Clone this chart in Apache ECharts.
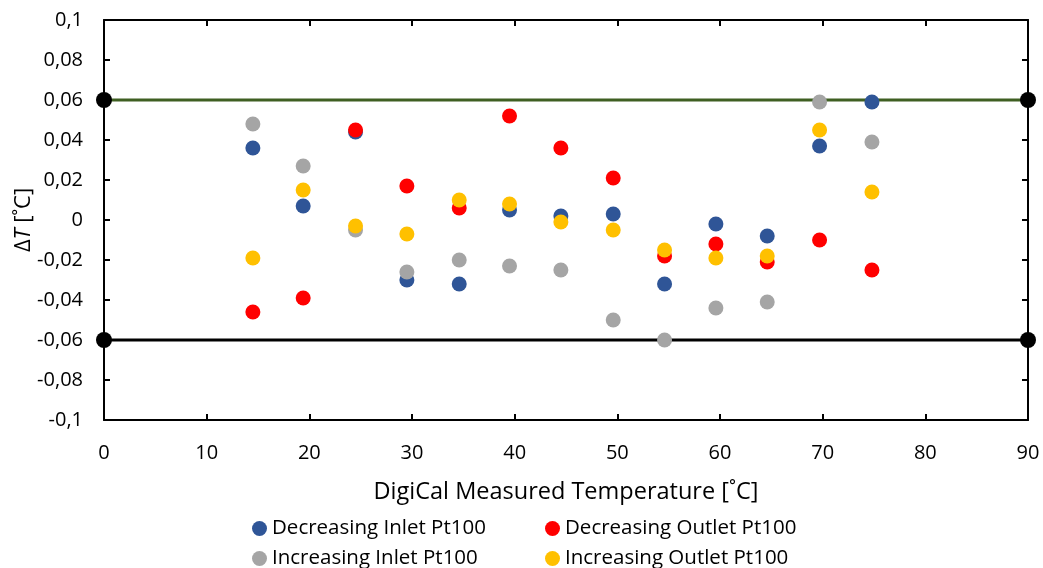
<!DOCTYPE html>
<html>
<head>
<meta charset="utf-8">
<script src="https://cdn.jsdelivr.net/npm/echarts@6/dist/echarts.min.js"></script>
<style>
  html, body { margin: 0; padding: 0; background: #fff; }
  #chart { width: 1043px; height: 568px; }
</style>
</head>
<body>
<div id="chart"></div>
<script>
// Set-point temperatures (DigiCal reading, °C)
const temps = [14.5, 19.4, 24.5, 29.5, 34.6, 39.5, 44.5, 49.6, 54.6, 59.6, 64.6, 69.7, 74.8];

// Deviation ΔT (°C) per sensor and ramp direction
const decInlet  = [0.036, 0.007, 0.044, -0.030, -0.032, 0.005, 0.002, 0.003, -0.032, -0.002, -0.008, 0.037, 0.059];
const decOutlet = [-0.046, -0.039, 0.045, 0.017, 0.006, 0.052, 0.036, 0.021, -0.018, -0.012, -0.021, -0.010, -0.025];
const incInlet  = [0.048, 0.027, -0.005, -0.026, -0.020, -0.023, -0.025, -0.050, -0.060, -0.044, -0.041, 0.059, 0.039];
const incOutlet = [-0.019, 0.015, -0.003, -0.007, 0.010, 0.008, -0.001, -0.005, -0.015, -0.019, -0.018, 0.045, 0.014];

// Tolerance band (°C)
const tolUpper = 0.06;
const tolLower = -0.06;
const xRange = [0, 90];

const seriesNames = [
  'Decreasing Inlet Pt100',
  'Decreasing Outlet Pt100',
  'Increasing Inlet Pt100',
  'Increasing Outlet Pt100'
];
const seriesColors = ['#2F5597', '#FF0000', '#A5A5A5', '#FFC000'];
const seriesValues = [decInlet, decOutlet, incInlet, incOutlet];

const FONT = 'Open Sans';

const pair = (ys) => temps.map((t, i) => [t, ys[i]]);
const fmtY = (v) => {
  const r = Math.round(v * 100) / 100;
  return String(r).replace('.', ',');
};

const axisLine = { show: true, onZero: false, lineStyle: { color: '#000', width: 2 } };
const tick = { show: true, inside: true, length: 6, lineStyle: { color: '#000', width: 2 } };

const chart = echarts.init(document.getElementById('chart'), null, { renderer: 'canvas' });

const scatter = seriesNames.map((name, k) => ({
  name,
  type: 'scatter',
  xAxisIndex: 0,
  yAxisIndex: 0,
  symbol: 'circle',
  symbolSize: 15,
  itemStyle: { color: seriesColors[k], opacity: 1 },
  data: pair(seriesValues[k]),
  z: 5 + k
}));

const tolLine = (y, color) => ({
  type: 'line',
  xAxisIndex: 0,
  yAxisIndex: 0,
  data: [[xRange[0], y], [xRange[1], y]],
  symbol: 'circle',
  symbolSize: 16,
  showSymbol: true,
  clip: false,
  itemStyle: { color: '#000' },
  lineStyle: { color, width: 3 },
  z: 3,
  silent: true
});

// Legend laid out as a 2×2 grid: one legend block per entry
const legendCols = [252, 545];
const legendRows = [518, 548];
const legends = seriesNames.map((name, k) => ({
  data: [name],
  left: legendCols[k % 2],
  top: legendRows[Math.floor(k / 2)],
  padding: 0,
  itemWidth: 15, itemHeight: 15,
  icon: 'circle',
  selectedMode: false,
  textStyle: { fontFamily: FONT, fontSize: 20.5, lineHeight: 20, color: '#000' }
}));

chart.setOption({
  animation: false,
  backgroundColor: '#fff',
  textStyle: { fontFamily: FONT },
  grid: { left: 104, right: 15, top: 20, bottom: 148, containLabel: false, outerBoundsMode: 'none' },
  legend: legends,
  xAxis: [
    {
      type: 'value', position: 'bottom',
      min: 0, max: 90, interval: 10,
      axisLine, axisTick: tick,
      splitLine: { show: false },
      axisLabel: { fontFamily: FONT, fontSize: 20, color: '#000', margin: 23 },
      name: 'DigiCal Measured Temperature [˚C]',
      nameLocation: 'middle', nameGap: 60, nameMoveOverlap: false,
      nameTextStyle: { fontFamily: FONT, fontSize: 23.5, color: '#000' }
    },
    {
      type: 'value', position: 'top',
      min: 0, max: 90, interval: 10,
      axisLine, axisTick: tick,
      splitLine: { show: false },
      axisLabel: { show: false }
    }
  ],
  yAxis: [
    {
      type: 'value', position: 'left',
      min: -0.1, max: 0.1, interval: 0.02,
      axisLine, axisTick: tick,
      splitLine: { show: false },
      axisLabel: { fontFamily: FONT, fontSize: 20, color: '#000', margin: 21, formatter: fmtY },
      name: '{d|Δ}{t|T}{d| [˚C]}',
      nameLocation: 'middle', nameGap: 69, nameRotate: 90, nameMoveOverlap: false,
      nameTextStyle: {
        rich: {
          d: { fontFamily: FONT, fontSize: 22, color: '#000' },
          t: { fontFamily: FONT, fontSize: 22, color: '#000', fontStyle: 'italic' }
        }
      }
    },
    {
      type: 'value', position: 'right',
      min: -0.1, max: 0.1, interval: 0.02,
      axisLine, axisTick: tick,
      splitLine: { show: false },
      axisLabel: { show: false }
    }
  ],
  series: [
    tolLine(tolUpper, '#3F5F22'),
    tolLine(tolLower, '#000'),
    ...scatter
  ]
});
</script>
</body>
</html>
